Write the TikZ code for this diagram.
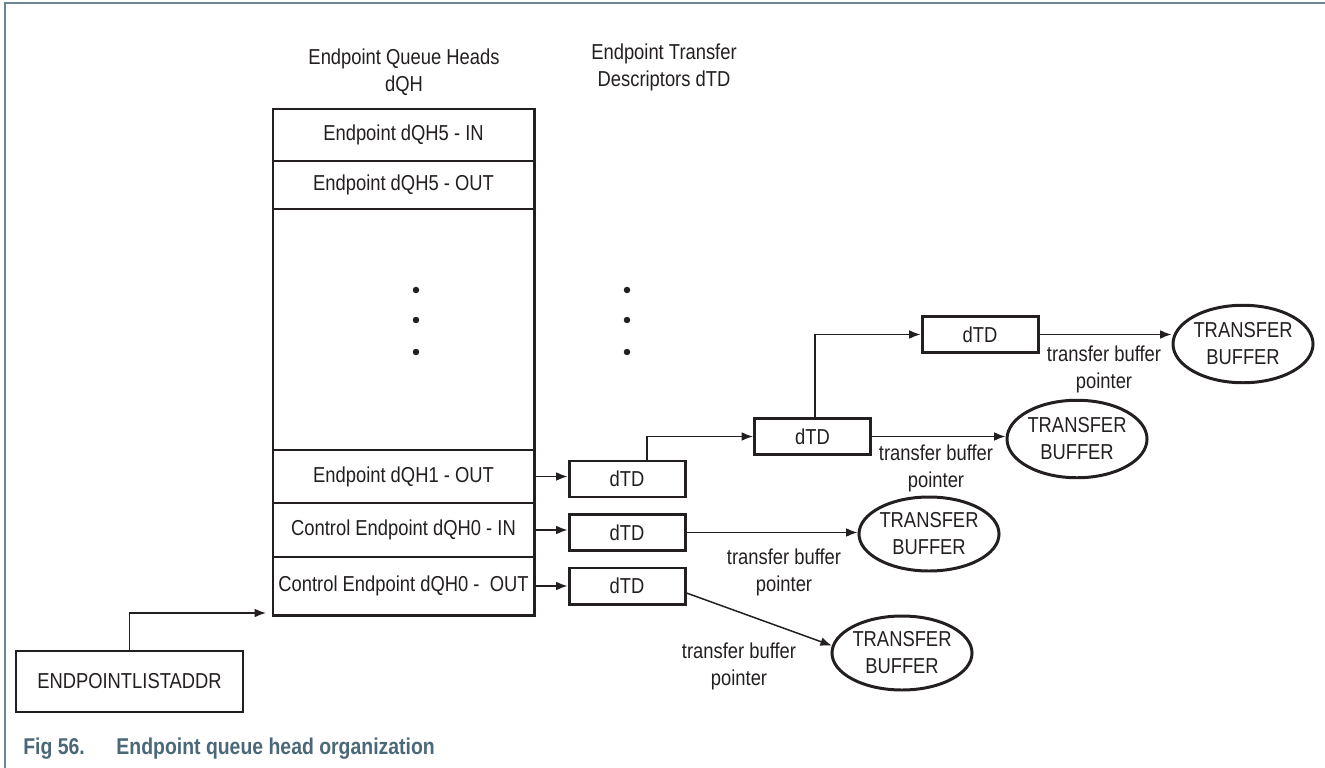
\documentclass[tikz,border=0pt]{standalone}
\usepackage{fontspec}
\setmainfont{Liberation Sans}[FakeStretch=0.85]
\usetikzlibrary{arrows.meta,positioning,shapes.geometric}
\definecolor{ink}{HTML}{231F20}
\definecolor{rule}{HTML}{6B8593}
\definecolor{capt}{HTML}{4A6878}

\begin{document}
\begin{tikzpicture}[font=\fontsize{12.3}{15.4}\selectfont,text=ink,
    >={Latex[length=6.5pt,width=5pt]},
    qhrow/.style={draw=ink,line width=1.7pt,minimum width=5.22cm,
      inner sep=0pt,outer sep=0pt},
    tdbox/.style={draw=ink,line width=1.7pt,minimum width=2.32cm,
      minimum height=0.72cm,inner sep=0pt},
    bufnode/.style={ellipse,draw=ink,line width=1.7pt,minimum width=2.8cm,
      minimum height=1.55cm,inner sep=0pt,align=center},
    ptr/.style={->,draw=ink,line width=0.85pt},
    ptrlabel/.style={align=center}]
  \useasboundingbox (0,0) rectangle (26.5,-15.36);
  \draw[rule,line width=1.2pt] (0.1,-15.36)--(0.1,-0.06)--(26.5,-0.06);

  % column headings
  \node[align=center] (qhhead) at (8.08,-1.45)
    {Endpoint Queue Heads\\dQH};
  \node[align=center] (tdhead) at (13.28,-1.34)
    {Endpoint Transfer\\Descriptors dTD};

  % queue head list
  \node[qhrow,minimum height=1.04cm,anchor=north west] (qh5in)
    at (5.46,-2.18) {Endpoint dQH5 - IN};
  \node[qhrow,minimum height=0.96cm,below=0pt of qh5in] (qh5out)
    {Endpoint dQH5 - OUT};
  \node[qhrow,minimum height=4.82cm,below=0pt of qh5out] (qhgap) {};
  \node[qhrow,minimum height=1.06cm,below=0pt of qhgap] (qh1out)
    {Endpoint dQH1 - OUT};
  \node[qhrow,minimum height=1.08cm,below=0pt of qh1out] (qh0in)
    {Control Endpoint dQH0 - IN};
  \node[qhrow,minimum height=1.16cm,below=0pt of qh0in] (qh0out)
    {Control Endpoint dQH0 -\ \ OUT};

  \foreach \yy in {-5.8,-6.4,-7.04}{
    \fill[ink] (8.32,\yy) circle (0.065);
    \fill[ink] (12.54,\yy) circle (0.065);
  }

  % transfer descriptors
  \node[tdbox] (tdA) at (12.54,-9.58) {dTD};
  \node[tdbox] (tdB) at (12.54,-10.65) {dTD};
  \node[tdbox] (tdC) at (12.54,-11.72) {dTD};
  \node[tdbox] (tdD) at (16.25,-8.73) {dTD};
  \node[tdbox] (tdE) at (19.6,-6.69) {dTD};

  % buffers
  \node[bufnode] (bufE) at (24.86,-6.88) {TRANSFER\\BUFFER};
  \node[bufnode] (bufD) at (21.54,-8.78) {TRANSFER\\BUFFER};
  \node[bufnode,minimum height=1.48cm] (bufB) at (18.58,-10.68)
    {TRANSFER\\BUFFER};
  \node[bufnode,minimum height=1.48cm] (bufC) at (18.04,-13.06)
    {TRANSFER\\BUFFER};

  \node[ptrlabel] (lblE) at (22.08,-7.38) {transfer buffer\\pointer};
  \node[ptrlabel] (lblD) at (18.72,-9.36) {transfer buffer\\pointer};
  \node[ptrlabel] (lblB) at (15.68,-11.44) {transfer buffer\\pointer};
  \node[ptrlabel] (lblC) at (14.78,-13.32) {transfer buffer\\pointer};

  % list address register
  \node[draw=ink,line width=1.4pt,minimum width=4.54cm,
    minimum height=1.22cm] (epl) at (2.59,-13.63) {ENDPOINTLISTADDR};
  \coordinate (entry) at (5.32,-12.26);

  % pointers
  \draw[ptr] (epl.north) |- (entry);
  \draw[ptr] (qh1out.east) -- (qh1out.east -| tdA.west);
  \draw[ptr] (qh0in.east) -- (qh0in.east -| tdB.west);
  \draw[ptr] (qh0out.east) -- (qh0out.east -| tdC.west);
  \draw[ptr] ([xshift=0.4cm]tdA.north) |- (tdD.west);
  \draw[ptr] ([xshift=0.05cm]tdD.north) |- (tdE.west);
  \draw[ptr] (tdE.east) -- (tdE.east -| bufE.west);
  \draw[ptr] (tdD.east) -- (tdD.east -| bufD.west);
  \draw[ptr] (tdB.east) -- (tdB.east -| bufB.west);
  \draw[ptr] ([yshift=-0.14cm]tdC.east) -- (bufC.174);

  \node[anchor=base west,inner sep=0pt,text=capt,
    font=\fontsize{13}{15}\selectfont\bfseries] (caption) at (0.46,-15.08)
    {Fig 56.\hspace{18pt}Endpoint queue head organization};
\end{tikzpicture}
\end{document}
